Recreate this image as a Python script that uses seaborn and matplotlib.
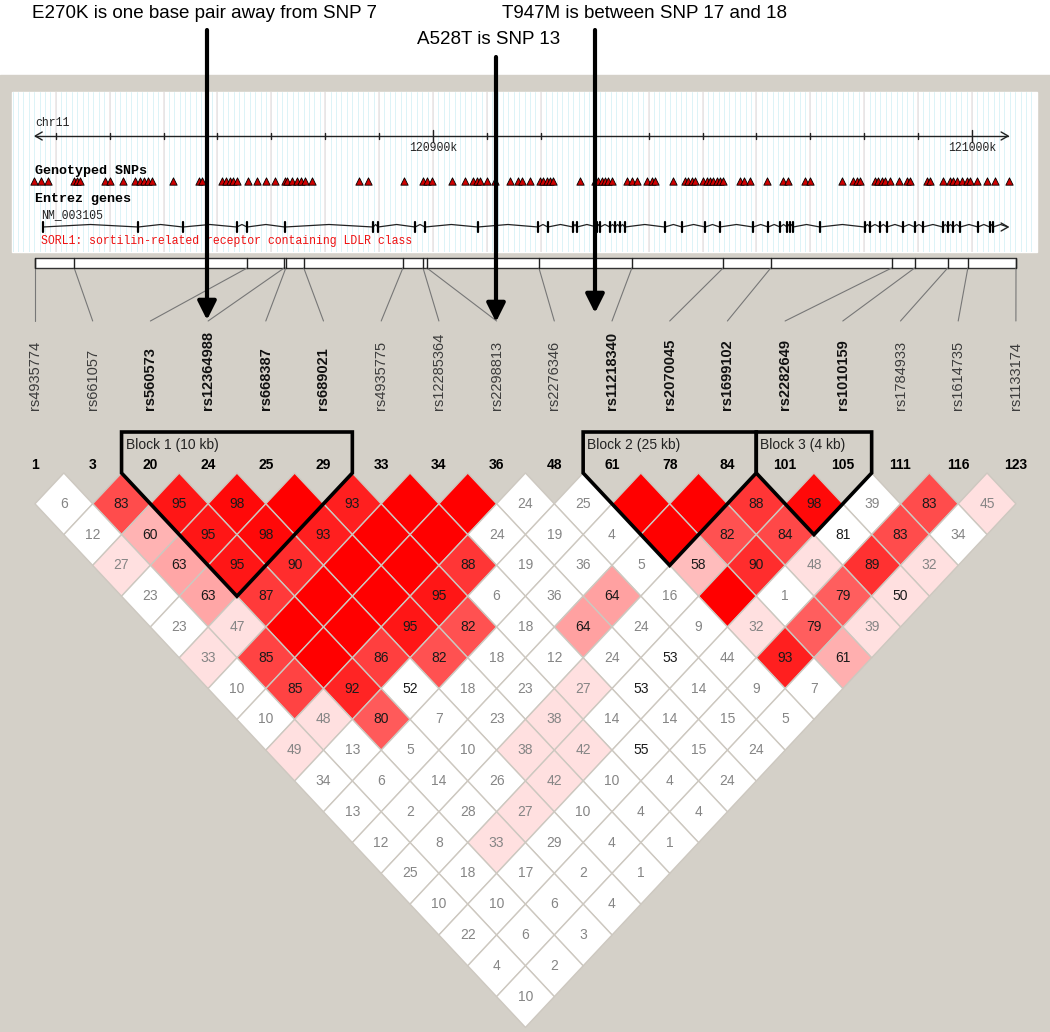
import matplotlib
matplotlib.use("Agg")
import matplotlib.pyplot as plt
from matplotlib.collections import PolyCollection
from matplotlib.patches import Rectangle, Polygon
import seaborn as sns
import pandas as pd

# ---- markers (Haploview) ----
marker_ids = [1, 3, 20, 24, 25, 29, 33, 34, 36, 48, 61, 78, 84, 101, 105, 111, 116, 123]
marker_names = ["rs4935774", "rs661057", "rs560573", "rs12364988", "rs668387", "rs689021",
                "rs4935775", "rs12285364", "rs2298813", "rs2276346", "rs11218340", "rs2070045",
                "rs1699102", "rs2282649", "rs1010159", "rs1784933", "rs1614735", "rs1133174"]
bold_names = ["rs560573", "rs12364988", "rs668387", "rs689021", "rs11218340",
              "rs2070045", "rs1699102", "rs2282649", "rs1010159"]
# relative position of each marker along the region (kb)
marker_kb = [0, 7.0, 37.9, 44.5, 44.8, 48.0, 65.7, 69.3, 70.0, 90.0,
             106.6, 122.9, 131.4, 153.0, 157.1, 163.0, 166.6, 175.2]

# D' x100 per diagonal (row d = pairs i, i+d); 100 = D'=1, no number shown
dprime_rows = [
    [6, 83, 95, 98, 100, 93, 100, 100, 24, 25, 100, 100, 88, 98, 39, 83, 45],
    [12, 60, 95, 98, 93, 100, 100, 24, 19, 4, 100, 82, 84, 81, 83, 34],
    [27, 63, 95, 90, 100, 100, 88, 19, 36, 5, 58, 90, 48, 89, 32],
    [23, 63, 87, 100, 100, 95, 6, 36, 64, 16, 100, 1, 79, 50],
    [23, 47, 100, 100, 95, 82, 18, 64, 24, 9, 32, 79, 39],
    [33, 85, 100, 86, 82, 18, 12, 24, 53, 44, 93, 61],
    [10, 85, 92, 52, 18, 23, 27, 53, 14, 9, 7],
    [10, 48, 80, 7, 23, 38, 14, 14, 15, 5],
    [49, 13, 5, 10, 38, 42, 55, 15, 24],
    [34, 6, 14, 26, 42, 10, 4, 24],
    [13, 2, 28, 27, 10, 4, 4],
    [12, 8, 33, 29, 4, 1],
    [25, 18, 17, 2, 1],
    [10, 10, 6, 4],
    [22, 6, 3],
    [4, 2],
    [10],
]
# LOD >= 2 flags (coloured cells)
strong_rows = [
    [0, 1, 1, 1, 1, 1, 1, 1, 0, 0, 1, 1, 1, 1, 0, 1, 1],
    [0, 1, 1, 1, 1, 1, 1, 0, 0, 0, 1, 1, 1, 0, 1, 0],
    [1, 1, 1, 1, 1, 1, 1, 0, 0, 0, 1, 1, 1, 1, 1],
    [0, 1, 1, 1, 1, 1, 0, 0, 1, 0, 1, 0, 1, 1],
    [0, 1, 1, 1, 1, 1, 0, 1, 0, 0, 1, 1, 1],
    [1, 1, 1, 1, 1, 0, 0, 0, 0, 0, 1, 1],
    [0, 1, 1, 0, 0, 0, 1, 0, 0, 0, 0],
    [0, 1, 1, 0, 0, 1, 0, 0, 0, 0],
    [1, 0, 0, 0, 1, 1, 0, 0, 0],
    [0, 0, 0, 0, 1, 0, 0, 0],
    [0, 0, 0, 1, 0, 0, 0],
    [0, 0, 1, 0, 0, 0],
    [0, 0, 0, 0, 0],
    [0, 0, 0, 0],
    [0, 0, 0],
    [0, 0],
    [0],
]

block_labels = ["Block 1 (10 kb)", "Block 2 (25 kb)", "Block 3 (4 kb)"]
block_first = [2, 10, 13]
block_last = [5, 12, 14]

# ---- genome browser panel (kb relative to 120900k) ----
snp_kb = [-74.0, -72.7, -71.4, -66.6, -66.0, -65.5, -60.9, -59.9, -57.5, -55.3, -54.4, -53.6,
          -52.9, -52.1, -48.2, -43.4, -42.9, -39.1, -38.4, -37.7, -37.1, -36.4, -34.3, -32.7,
          -31.0, -29.3, -27.5, -27.1, -26.2, -25.2, -24.5, -23.7, -22.4, -13.7, -12.1, -5.4,
          -1.9, -1.1, -0.2, 3.5, 5.9, 7.4, 8.2, 8.7, 10.0, 11.5, 14.3, 15.8, 16.5, 18.0,
          19.9, 20.4, 21.2, 21.7, 22.3, 27.3, 30.1, 30.6, 31.4, 31.9, 32.5, 33.2, 36.0, 36.9,
          37.8, 39.7, 40.6, 41.2, 44.5, 46.8, 47.3, 48.1, 48.6, 50.1, 50.8, 51.4, 51.9, 52.7,
          53.2, 53.8, 57.0, 57.7, 58.8, 62.0, 64.9, 65.9, 69.0, 69.9, 75.9, 77.9, 78.7, 79.2,
          82.0, 82.6, 83.3, 83.9, 84.8, 86.5, 87.9, 88.5, 91.7, 92.2, 94.6, 95.9, 96.5, 97.2,
          98.1, 99.1, 99.6, 100.9, 102.8, 104.3, 106.9]
exon_kb = [-72.4, -54.7, -46.4, -36.4, -34.5, -27.5, -11.1, -10.2, -3.3, -1.5, 8.3, 19.5,
           21.3, 26.0, 26.7, 30.4, 31.0, 32.8, 33.8, 34.7, 35.6, 43.0, 46.2, 50.5, 53.2, 59.4,
           62.2, 64.4, 65.7, 66.2, 66.8, 71.8, 80.1, 81.1, 82.9, 84.2, 87.2, 89.4, 90.9, 94.6,
           95.5, 96.5, 97.8, 101.1, 103.3, 103.9, 106.7]
tick_kb = list(range(-70, 101, 10))
tick_labels = {0: "120900k", 100: "121000k"}

notes = ["E270K is one base pair away from SNP 7", "A528T is SNP 13",
         "T947M is between SNP 17 and 18"]
note_x = [32, 417, 502]
note_y = [13, 40, 13]
arrow_x = [207, 496, 595]
arrow_top = [30, 57, 30]
arrow_tip = [320, 322, 313]

# ---- layout ----
W, H = 1050, 1032
X0, DX = 35, 57.7          # marker spacing in the triangle
HW, HH = DX / 2, 30.8      # diamond half width / half height
TOP = 473                  # top of first diamond row
BAR_L, BAR_R = 35, 1016

sns.set_style("white")
plt.rcParams["font.family"] = ["Liberation Sans", "DejaVu Sans"]

fig = plt.figure(figsize=(W / 100, H / 100), dpi=100)
ax = fig.add_axes([0, 0, 1, 1])
ax.set_xlim(0, W)
ax.set_ylim(H, 0)
ax.axis("off")

ax.add_patch(Rectangle((0, 75), W, H - 75, color="#d4d0c8", zorder=0))
ax.add_patch(Rectangle((12, 92), 1025, 160, color="white", zorder=1))

mx = [X0 + DX * k for k in range(len(marker_ids))]

# ---- LD triangle ----
polys, colors = [], []
for d, (vals, flags) in enumerate(zip(dprime_rows, strong_rows), start=1):
    for i, (v, s) in enumerate(zip(vals, flags)):
        j = i + d
        cx = (mx[i] + mx[j]) / 2
        cy = TOP + d * HH
        polys.append([(cx, cy - HH), (cx + HW, cy), (cx, cy + HH), (cx - HW, cy)])
        if not s:
            colors.append((1, 1, 1))
        else:
            g = 224 if v < 50 else 224 * (1 - (v / 100 - 0.5) / 0.5)
            colors.append((1, g / 255, g / 255))
        if v < 100:
            ax.text(cx, cy, str(v), ha="center", va="center", fontsize=10,
                    color="#1a1a1a" if v >= 50 else "#858585", zorder=4)
ax.add_collection(PolyCollection(polys, facecolors=colors, edgecolors="#cdc8c0",
                                 linewidths=1, zorder=3))

for k, mid in enumerate(marker_ids):
    ax.text(mx[k], 465, str(mid), ha="center", va="center", fontsize=10,
            fontweight="bold", color="black", zorder=4)

for lab, a, b in zip(block_labels, block_first, block_last):
    left, right = mx[a] - HW, mx[b] + HW
    bx, by = (mx[a] + mx[b]) / 2, TOP + (b - a + 1) * HH
    ax.add_patch(Polygon([(left, 432), (right, 432), (right, TOP), (bx, by), (left, TOP)],
                         closed=True, fill=False, edgecolor="black", lw=2.6, zorder=5))
    ax.text(left + 4, 445, lab, ha="left", va="center", fontsize=10, color="#222", zorder=5)

# ---- marker bar, connectors and names ----
span = marker_kb[-1] - marker_kb[0]
bar_x = [BAR_L + (p - marker_kb[0]) / span * (BAR_R - BAR_L) for p in marker_kb]
ax.add_patch(Rectangle((BAR_L, 258), BAR_R - BAR_L, 10, facecolor="white",
                       edgecolor="#333", lw=1, zorder=2))
for k, bxk in enumerate(bar_x):
    ax.plot([bxk, bxk], [258, 268], color="#222", lw=1, zorder=3)
    ax.plot([bxk, mx[k]], [268, 321], color="#777", lw=0.8, zorder=2)
    name = marker_names[k]
    bold = name in bold_names
    ax.text(mx[k], 410, name, rotation=90, ha="center", va="bottom", fontsize=10.5,
            fontweight="bold" if bold else "normal",
            color="#111" if bold else "#3c3c3c", zorder=3)

# ---- genome browser panel ----
axg = fig.add_axes([12 / W, 1 - 252 / H, 1025 / W, 160 / H])
axg.set_xlim((12 - 433) / 5.39, (1037 - 433) / 5.39)
axg.set_ylim(160, 0)
axg.axis("off")
mono = ["Liberation Mono", "DejaVu Sans Mono"]

for k in range(-78, 113):
    axg.axvline(k, color="#dcf3f7", lw=0.7, zorder=0)
for t in tick_kb:
    axg.axvline(t, color="#ebe3e3", lw=1.1, zorder=0)

axg.plot([-73.8, 106.7], [44, 44], color="#222", lw=1)
axg.plot([-72.5, -73.8, -72.5], [40, 44, 48], color="#222", lw=1)
axg.plot([105.4, 106.7, 105.4], [40, 44, 48], color="#222", lw=1)
for t in tick_kb:
    big = t in tick_labels
    axg.plot([t, t], [38, 50] if big else [41, 47], color="#222", lw=1)
    if big:
        axg.text(t, 56, tick_labels[t], ha="center", va="center", fontsize=8.3,
                 family=mono, color="#222")
axg.text(-73.8, 31, "chr11", ha="left", va="center", fontsize=8.3, family=mono, color="#222")
axg.text(-73.8, 79, "Genotyped SNPs", ha="left", va="center", fontsize=9.6,
         fontweight="bold", family=mono, color="black")
snps = pd.DataFrame({"kb": snp_kb, "y": 89})
sns.scatterplot(data=snps, x="kb", y="y", ax=axg, marker="^", s=28, color="#d00000",
                edgecolor="black", linewidth=0.6, legend=False, zorder=3)
axg.set_xlabel("")
axg.set_ylabel("")
axg.text(-73.8, 107, "Entrez genes", ha="left", va="center", fontsize=9.6,
         fontweight="bold", family=mono, color="black")
axg.text(-72.7, 123, "NM_003105", ha="left", va="center", fontsize=8.3,
         family=mono, color="#222")

gx, gy = [], []
for a, b in zip(exon_kb[:-1], exon_kb[1:]):
    gx += [a, (a + b) / 2]
    gy += [135, 132.5]
gx.append(exon_kb[-1])
gy.append(135)
axg.plot(gx, gy, color="#222", lw=0.9)
for e in exon_kb[:-1]:
    axg.plot([e, e], [130, 140], color="black", lw=1.6)
axg.plot([105.4, 106.7, 105.4], [131, 135, 139], color="#222", lw=1)
axg.text(-72.7, 149, "SORL1: sortilin-related receptor containing LDLR class",
         ha="left", va="center", fontsize=8.3, family=mono, color="#ee1111")

# ---- annotations ----
note_font = ["Liberation Sans Narrow", "Liberation Sans", "DejaVu Sans"]
for txt, tx, ty in zip(notes, note_x, note_y):
    ax.text(tx, ty, txt, ha="left", va="center", fontsize=13.5, family=note_font,
            color="black", zorder=6)
ax_arrow = fig.add_axes([0, 0, 1, 1], sharex=ax, sharey=ax)
ax_arrow.axis("off")
ax_arrow.patch.set_alpha(0)
for x, y0, y1 in zip(arrow_x, arrow_top, arrow_tip):
    ax_arrow.annotate("", xy=(x, y1), xytext=(x, y0),
                      arrowprops=dict(arrowstyle="-|>", lw=3, color="black",
                                      mutation_scale=28, shrinkA=0, shrinkB=0))

fig.savefig("out.png", dpi=100)
